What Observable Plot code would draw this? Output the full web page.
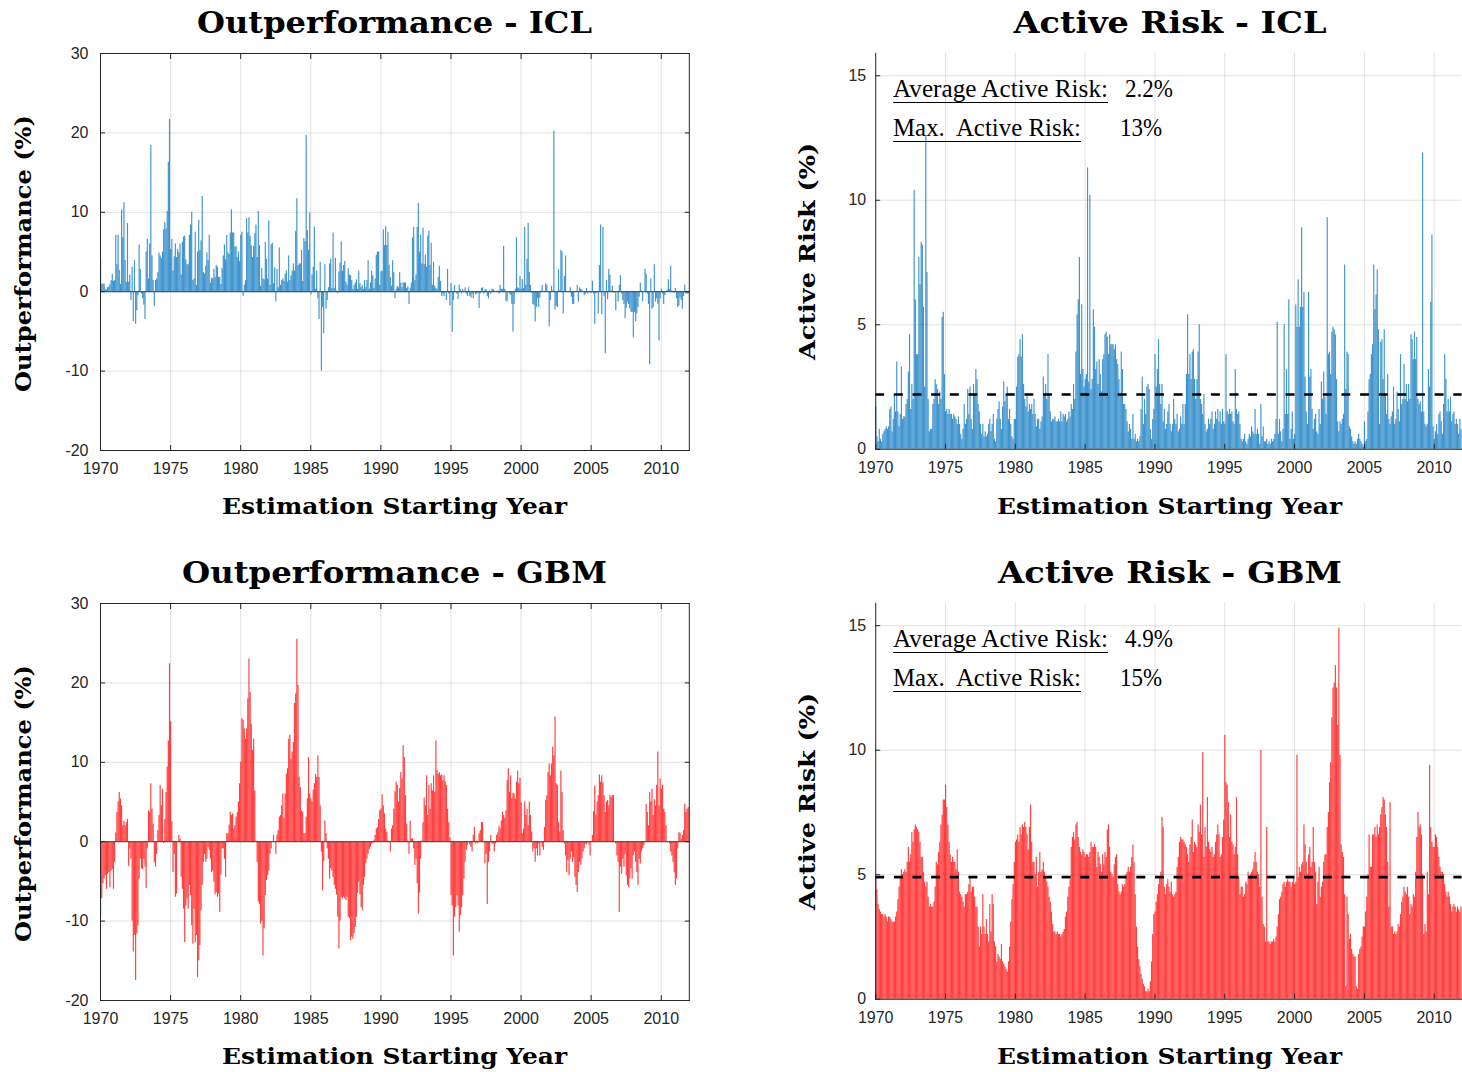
<!DOCTYPE html>
<html><head><meta charset="utf-8">
<script src="https://cdn.jsdelivr.net/npm/d3@7"></script>
<script src="https://cdn.jsdelivr.net/npm/@observablehq/plot@0.6"></script>
<style>
html,body{margin:0;padding:0;background:#fff;overflow:hidden}
#wrap{position:relative;width:1462px;height:1072px;overflow:hidden;background:#fff}
.panel{position:absolute}
#overlay{position:absolute;left:0;top:0;pointer-events:none}
</style></head><body><div id="wrap"></div>
<script>
// ---------------- data (monthly, starting Jan 1970) ----------------
const startYear = 1970;
const xTicks = [1970, 1975, 1980, 1985, 1990, 1995, 2000, 2005, 2010];
const outTicks = [-20, -10, 0, 10, 20, 30];
const riskTicks = [0, 5, 10, 15];

const iclOutperformance = [
/*1970*/ 4.1, 1.0, 0.9, 1.0, 0.3, 0.2, 0.5, 0.6, 0.9, 1.4, 2.2, 1.3,
/*1971*/ 1.4, 7.1, 3.4, 7.1, 2.7, 0.9, 10.3, 6.8, 11.2, 3.9, 1.2, 8.6,
/*1972*/ 1.2, 2.1, -1.1, 3.1, -3.8, 3.9, -4.1, -2.4, -0.5, 5.9, 2.8, -0.3,
/*1973*/ -0.9, -1.7, -3.5, 5.0, 6.6, 1.6, 6.0, 18.4, 4.5, 1.4, -1.9, 1.4,
/*1974*/ 1.6, 2.4, 4.9, 4.5, 4.2, 5.0, 7.8, 8.7, 7.9, 10.1, 16.3, 21.7,
/*1975*/ 5.3, 6.6, 2.6, 4.4, 6.0, 4.3, 5.3, 4.9, 6.0, 2.1, 6.2, 6.9,
/*1976*/ 7.0, 4.0, 3.4, 3.4, 7.1, 8.4, 10.0, 1.4, 1.6, 7.5, 0.8, 5.0,
/*1977*/ 9.0, 5.2, 6.4, 12.0, 2.4, 2.2, 3.2, 4.9, 3.9, 7.1, 1.1, 1.7,
/*1978*/ 1.6, 2.8, 1.8, 3.3, 3.1, 1.8, 1.8, 0.9, 2.9, 4.5, 5.9, 4.0,
/*1979*/ 7.1, 4.9, 4.7, 7.4, 10.3, 7.4, 7.4, 5.6, 5.7, 4.3, 5.0, 3.8,
/*1980*/ 7.1, 7.5, -0.6, 0.8, 1.4, 9.2, 7.4, 9.3, 7.0, 5.8, 4.3, 5.7,
/*1981*/ 7.3, 8.4, 4.3, 10.1, 5.8, 0.7, 2.9, 1.6, 1.5, 6.2, 4.1, 1.6,
/*1982*/ 8.9, 0.8, 5.9, 6.1, 1.0, 3.0, -1.3, 2.8, 0.5, 5.5, 0.8, 1.4,
/*1983*/ 1.6, 1.3, 2.2, 2.6, 1.2, 4.5, 1.4, 2.0, 2.6, 3.5, 2.6, 7.6,
/*1984*/ 11.7, 3.3, 3.5, 3.5, 5.2, 1.3, 6.7, 6.3, 19.7, 7.7, 5.2, 9.9,
/*1985*/ -0.4, 2.1, 3.1, 8.1, 0.3, 2.6, -0.9, -3.5, 3.7, -10.0, -2.0, -5.3,
/*1986*/ 3.4, -2.2, -1.1, 0.5, 3.5, 4.1, 0.4, 7.4, 0.4, 4.2, 0.1, -0.2,
/*1987*/ 2.5, 3.6, 6.3, 2.6, 3.3, 3.8, 1.2, 0.8, 2.9, 2.1, 2.0, 1.4,
/*1988*/ 0.3, 0.8, 1.1, 1.5, 0.3, 2.6, 1.0, 0.5, 0.8, 0.3, 1.4, 0.5,
/*1989*/ 1.4, 3.9, 0.3, 1.1, 2.6, 2.0, 0.4, 1.6, 4.6, 5.0, 5.0, 0.8,
/*1990*/ 2.5, 2.6, 7.8, 5.8, 8.2, 5.8, 7.5, 3.3, 1.8, 0.7, 3.9, 2.4,
/*1991*/ -0.9, 0.3, 0.7, 0.5, 2.4, 1.1, 0.5, 1.1, 1.1, 1.1, 0.4, 0.6,
/*1992*/ -1.6, 0.4, 1.1, 6.8, 8.1, 1.4, 2.1, 8.1, 11.1, 5.0, 7.1, 3.5,
/*1993*/ 8.0, 3.4, 4.6, 3.1, 7.0, 7.6, 3.3, 6.1, 0.8, 3.7, 0.7, 0.4,
/*1994*/ 0.3, 1.8, 3.2, 1.3, -0.6, -0.3, -0.6, -0.1, -1.1, 2.8, -0.3, -1.8,
/*1995*/ 1.0, -5.1, -1.1, 0.8, -0.1, -0.3, -1.0, 0.8, 0.2, -0.3, 0.3, -0.1,
/*1996*/ 0.5, -0.3, -0.6, 0.5, -0.6, -0.8, -0.3, -0.9, -0.1, -0.4, -0.3, -0.2,
/*1997*/ -2.1, -0.3, 0.4, 0.5, -0.3, 0.2, 0.3, -0.6, -0.9, 0.1, -0.3, 0.3,
/*1998*/ 0.3, 0.1, 0.0, 0.0, 0.1, -0.3, 0.8, 0.3, 0.3, 5.7, 0.3, -1.2,
/*1999*/ -1.3, 0.0, -0.3, -0.5, -1.6, -5.1, -1.6, 0.3, 6.8, 0.5, 0.4, 1.9,
/*2000*/ 0.3, 1.5, 0.4, 8.1, 0.8, 4.1, 8.6, 2.4, 0.8, -0.2, -1.6, -1.7,
/*2001*/ -3.8, -2.0, -0.9, -2.0, -0.8, 0.1, 0.8, 0.0, -0.1, 1.0, 0.8, -0.1,
/*2002*/ -4.4, -1.1, 0.7, 0.1, 20.2, -2.3, -1.8, -2.0, 2.8, 0.1, 5.2, 5.0,
/*2003*/ -2.8, 1.9, 4.5, 0.0, -0.1, -0.1, 0.5, -0.7, -1.6, -1.6, -0.1, -0.1,
/*2004*/ 0.8, -1.3, 0.5, 0.3, 0.2, 0.0, -0.5, -0.3, 0.4, -0.3, -0.1, 0.0,
/*2005*/ -0.2, 1.3, -0.3, -4.1, -0.3, -0.1, -2.8, 3.3, 8.4, -2.9, 8.1, -0.6,
/*2006*/ -7.8, 1.4, -1.0, 2.8, 2.1, 0.1, 0.7, -0.2, 0.0, -2.4, -0.1, -1.3,
/*2007*/ 0.8, 2.0, -0.3, -1.1, -1.6, -3.4, -2.1, -1.3, -1.6, -2.2, -2.6, -2.6,
/*2008*/ -5.8, -2.6, -3.8, -2.8, -2.0, -0.7, 1.1, 0.1, -1.3, -0.1, 2.8, 2.2,
/*2009*/ -0.3, -1.6, -9.2, 1.6, -2.2, -2.0, 3.4, -1.3, -0.9, -1.6, -6.2, -0.9,
/*2010*/ 0.3, -0.3, -1.6, -0.5, 0.0, 0.2, 1.5, 0.3, 3.2, 0.1, 0.0, -0.2,
/*2011*/ 0.4, -0.9, -2.0, -1.8, -0.8, -1.1, -2.2, -0.6, 0.8, -0.3, -0.3, -0.3
];

const iclActiveRisk = [
/*1970*/ 1.7, 0.5, 0.3, 0.8, 0.4, 0.3, 0.6, 0.7, 0.8, 0.9, 0.8, 0.9,
/*1971*/ 1.6, 1.7, 0.7, 1.2, 2.2, 1.5, 3.5, 1.5, 0.9, 1.4, 3.3, 1.2,
/*1972*/ 1.3, 1.3, 1.8, 2.0, 3.1, 4.6, 1.6, 2.6, 2.0, 10.4, 6.0, 3.8,
/*1973*/ 3.8, 7.7, 6.6, 8.3, 8.2, 5.7, 2.5, 12.6, 7.1, 2.0, 0.7, 0.8,
/*1974*/ 0.8, 1.8, 2.0, 2.8, 2.6, 2.4, 1.8, 2.3, 2.0, 5.3, 5.5, 3.0,
/*1975*/ 1.5, 1.6, 1.4, 1.6, 1.4, 1.4, 1.2, 1.4, 1.3, 1.2, 1.0, 1.3,
/*1976*/ 1.0, 0.6, 0.4, 0.8, 1.8, 1.0, 1.2, 2.4, 1.4, 2.5, 1.2, 0.8,
/*1977*/ 2.6, 2.2, 3.2, 2.8, 1.8, 1.5, 1.0, 0.6, 1.0, 0.5, 0.7, 0.5,
/*1978*/ 0.6, 1.0, 1.2, 0.7, 1.0, 1.4, 0.4, 0.3, 1.2, 1.6, 1.9, 1.2,
/*1979*/ 0.8, 1.7, 2.7, 1.9, 2.2, 2.5, 1.2, 1.6, 1.0, 0.5, 0.4, 1.2,
/*1980*/ 1.2, 2.5, 3.7, 3.8, 4.4, 3.7, 4.6, 2.6, 2.0, 1.7, 2.2, 1.5,
/*1981*/ 1.8, 1.6, 1.8, 1.4, 2.0, 1.4, 0.9, 1.2, 1.2, 0.8, 1.1, 1.3,
/*1982*/ 2.9, 2.2, 2.6, 2.0, 3.8, 2.2, 1.5, 1.1, 1.2, 1.2, 1.3, 1.1,
/*1983*/ 1.1, 1.2, 1.1, 1.5, 1.1, 1.4, 1.3, 1.4, 1.1, 1.2, 1.5, 1.3,
/*1984*/ 1.8, 1.6, 2.6, 2.0, 3.9, 5.4, 6.0, 7.7, 3.0, 5.8, 3.2, 2.5,
/*1985*/ 2.8, 3.0, 11.3, 2.7, 10.2, 2.4, 2.8, 5.6, 4.9, 3.2, 3.5, 2.6,
/*1986*/ 3.6, 3.0, 2.3, 3.6, 3.8, 4.6, 4.7, 4.5, 3.8, 4.6, 4.2, 4.2,
/*1987*/ 4.2, 4.0, 4.2, 3.6, 3.4, 2.8, 2.2, 3.9, 3.2, 1.8, 1.8, 1.6,
/*1988*/ 1.1, 0.7, 1.0, 0.8, 0.4, 1.4, 0.4, 0.6, 0.3, 0.4, 0.3, 0.5,
/*1989*/ 1.6, 2.9, 1.0, 2.0, 1.4, 2.5, 2.6, 2.4, 0.8, 0.4, 1.2, 1.6,
/*1990*/ 3.8, 2.5, 3.2, 4.4, 2.6, 1.8, 2.6, 1.1, 1.6, 0.8, 1.0, 1.5,
/*1991*/ 1.8, 1.0, 0.7, 1.0, 2.0, 1.2, 1.0, 1.4, 0.7, 0.8, 1.3, 1.0,
/*1992*/ 1.8, 1.0, 1.8, 3.0, 5.4, 3.0, 3.8, 2.8, 3.9, 4.0, 2.8, 2.0,
/*1993*/ 2.8, 3.9, 5.0, 2.0, 1.8, 1.4, 2.2, 1.0, 0.7, 0.8, 1.2, 1.0,
/*1994*/ 1.2, 1.5, 0.8, 1.0, 1.5, 1.2, 1.6, 1.1, 1.5, 1.0, 1.6, 1.1,
/*1995*/ 1.0, 3.8, 1.5, 1.4, 1.6, 1.4, 1.5, 1.1, 1.0, 3.2, 1.6, 1.4,
/*1996*/ 1.5, 1.0, 0.4, 0.3, 0.4, 0.6, 0.3, 0.2, 0.4, 0.6, 0.5, 0.9,
/*1997*/ 0.7, 0.6, 1.6, 0.6, 0.8, 0.6, 0.2, 1.8, 0.5, 0.9, 0.3, 0.3,
/*1998*/ 0.4, 0.2, 0.3, 0.2, 0.4, 0.3, 0.4, 0.6, 1.2, 5.1, 0.6, 1.2,
/*1999*/ 0.7, 0.3, 0.8, 5.0, 1.4, 3.2, 1.4, 6.0, 0.4, 0.8, 1.5, 0.4,
/*2000*/ 0.6, 5.8, 4.9, 6.8, 4.9, 5.7, 8.9, 5.7, 6.3, 2.9, 1.5, 1.0,
/*2001*/ 6.3, 2.9, 3.2, 1.6, 0.8, 1.2, 1.4, 0.7, 0.6, 1.6, 1.0, 2.7,
/*2002*/ 2.0, 3.1, 2.1, 1.4, 9.3, 3.8, 3.9, 3.0, 4.7, 4.9, 4.8, 4.6,
/*2003*/ 2.8, 1.1, 0.7, 1.1, 1.0, 1.2, 1.4, 7.4, 2.4, 3.9, 3.8, 0.9,
/*2004*/ 0.8, 0.5, 0.3, 0.2, 0.3, 0.2, 0.4, 0.6, 0.4, 0.3, 0.2, 0.1,
/*2005*/ 1.1, 0.3, 0.4, 1.5, 2.8, 3.0, 3.8, 4.2, 7.4, 5.6, 6.2, 7.2,
/*2006*/ 4.8, 1.0, 4.3, 4.4, 2.8, 4.8, 2.2, 1.4, 3.0, 1.2, 1.0, 1.3,
/*2007*/ 1.5, 2.5, 1.0, 1.2, 2.3, 1.6, 1.1, 3.8, 1.8, 2.0, 3.4, 2.0,
/*2008*/ 2.6, 1.9, 2.6, 2.0, 4.6, 4.4, 3.6, 4.7, 3.6, 4.5, 2.0, 1.8,
/*2009*/ 1.9, 1.5, 11.9, 1.5, 1.0, 0.9, 1.0, 3.2, 2.5, 5.9, 8.6, 0.9,
/*2010*/ 0.4, 0.7, 1.0, 0.6, 1.4, 1.5, 1.1, 0.6, 1.8, 3.8, 2.8, 1.5,
/*2011*/ 2.0, 1.5, 2.1, 1.1, 1.4, 1.5, 1.0, 1.2, 1.0, 0.6, 1.2, 0.8
];

const gbmOutperformance = [
/*1970*/ -9.7, -7.2, -5.3, -4.7, -4.3, -6.0, -4.1, -3.9, -5.8, -3.7, -3.5, -6.0,
/*1971*/ -2.6, 1.1, 3.7, 5.0, 6.2, 5.4, 4.5, 2.0, 2.6, 2.0, 2.4, 2.8,
/*1972*/ -3.1, -0.9, -2.2, -10.0, -13.9, -11.8, -17.5, -11.6, -10.6, -4.7, -2.2, -3.4,
/*1973*/ -3.5, -2.2, -3.2, -5.9, -0.9, 3.9, 3.7, 7.3, 4.1, 2.2, -2.6, -3.2,
/*1974*/ -1.6, 1.4, 3.3, 7.1, 4.5, 6.6, -0.2, 2.8, 6.2, 9.4, 12.7, 22.4,
/*1975*/ 15.1, 2.5, -3.9, -1.6, -7.0, -6.6, 0.0, 0.8, 0.3, -4.5, -6.0, -8.5,
/*1976*/ -12.7, -8.1, -7.2, -8.5, -5.5, -6.8, -10.6, -12.9, -8.5, -12.7, -11.8, -17.1,
/*1977*/ -15.0, -13.1, -8.7, -5.5, -2.6, -1.6, -2.6, -2.2, -0.7, -1.1, -2.2, -3.9,
/*1978*/ -3.7, -5.1, -6.7, -6.4, -7.0, -6.6, -8.9, -4.2, -0.9, -0.9, -2.2, -4.5,
/*1979*/ 1.0, 1.0, 2.1, 3.7, 3.3, 3.5, 1.6, 2.0, 3.1, 3.7, 5.0, 7.3,
/*1980*/ 10.0, 15.5, 15.3, 14.2, 12.9, 14.2, 18.0, 23.0, 18.8, 14.8, 11.5, 12.9,
/*1981*/ 6.4, 0.1, -2.6, -7.6, -7.9, -10.4, -10.0, -14.4, -11.0, -6.8, -4.9, -4.3,
/*1982*/ -3.7, -1.6, -0.9, 0.0, 0.8, 0.0, -1.6, 0.8, 1.4, 3.1, 3.3, 4.5,
/*1983*/ 6.0, 2.9, 6.0, 8.5, 9.2, 12.9, 13.4, 10.4, 11.3, 12.5, 17.4, 18.6,
/*1984*/ 25.5, 19.7, 8.1, 6.8, 3.9, 3.7, 1.0, 1.0, 3.1, 5.4, 10.6, 6.0,
/*1985*/ 5.4, 5.0, 6.5, 7.3, 8.5, 8.1, 10.8, 8.1, 4.5, -1.3, -6.2, -2.5,
/*1986*/ 2.6, 1.0, -0.9, -2.2, -4.7, -3.4, -3.7, -4.5, -5.5, -6.0, -6.7, -9.5,
/*1987*/ -13.5, -10.0, -7.0, -7.2, -7.0, -7.2, -7.4, -7.0, -9.5, -9.7, -12.5, -12.0,
/*1988*/ -12.3, -11.6, -10.8, -9.5, -6.5, -5.1, -6.7, -8.3, -8.7, -5.5, -4.5, -2.8,
/*1989*/ -2.2, -1.6, -1.0, -0.7, -0.3, -0.2, 0.2, 0.8, 1.6, 1.8, 2.8, 3.9,
/*1990*/ 4.1, 5.9, 4.5, 3.5, 1.6, 1.2, 0.1, 0.0, -1.3, 1.6, 2.0, 4.1,
/*1991*/ 6.3, 7.5, 7.1, 5.0, 6.7, 8.7, 7.9, 12.1, 10.6, 5.8, 2.2, 0.1,
/*1992*/ -1.6, 2.6, 0.3, 0.4, -0.9, -3.0, -2.2, -5.3, -9.1, -6.5, -2.2, 0.1,
/*1993*/ 2.4, 5.5, 4.5, 8.3, 3.3, 7.1, 4.1, 7.3, 6.4, 8.3, 6.2, 12.7,
/*1994*/ 9.0, 8.5, 8.7, 8.3, 8.4, 7.7, 8.3, 7.5, 7.1, 4.1, 2.4, 0.5,
/*1995*/ -6.8, -8.1, -14.4, -9.5, -8.3, -6.8, -8.1, -11.4, -9.3, -8.3, -6.8, -4.7,
/*1996*/ -2.6, -1.1, -0.5, -0.1, -0.4, -0.7, -1.3, 0.8, 1.8, -0.3, 0.1, -0.2,
/*1997*/ 1.0, 1.4, 2.4, 2.4, -0.1, -2.8, -1.6, -7.9, -2.6, -1.3, 0.8, -0.3,
/*1998*/ -0.3, -1.3, -0.3, 0.8, 1.1, 1.9, 1.6, 2.6, 3.7, 3.3, 2.9, 3.9,
/*1999*/ 7.7, 9.2, 6.2, 8.3, 5.4, 6.1, 6.0, 5.4, 7.5, 8.9, 7.3, 8.0,
/*2000*/ 4.9, 1.0, 1.6, 5.0, 3.3, 4.1, 2.0, 5.0, 3.3, 1.2, -1.3, -0.9,
/*2001*/ -2.6, -0.9, -1.8, -0.3, -1.8, -0.1, -0.7, -1.1, 1.8, 5.2, 5.8, 8.7,
/*2002*/ 9.8, 8.3, 9.8, 11.9, 10.8, 15.7, 7.3, 7.1, 2.4, 1.2, 8.9, 6.2,
/*2003*/ 1.4, -0.3, -1.8, -3.9, -2.4, -4.3, -2.2, -1.3, -2.6, -2.0, -4.5, -5.5,
/*2004*/ -6.4, -3.9, -2.6, -3.0, -2.2, -1.3, -0.9, -0.3, -0.4, -0.1, -0.4, -1.8,
/*2005*/ -0.1, 0.8, 3.8, 7.0, 3.3, 5.0, 5.8, 8.4, 7.5, 8.3, 7.4, 5.8,
/*2006*/ 3.7, 5.0, 5.2, 4.5, 5.8, 5.6, 5.8, 5.8, -0.1, -0.3, -1.8, -2.6,
/*2007*/ -8.9, -3.2, -4.1, -2.2, -3.2, -1.6, -4.3, -5.5, -5.8, -4.7, -3.4, -4.7,
/*2008*/ -1.8, -1.3, -2.6, -3.9, -5.5, -2.2, -2.8, -1.3, -0.9, -0.5, -0.1, 4.7,
/*2009*/ 3.7, 2.0, 6.2, 5.0, 6.6, 3.3, 5.3, 4.5, 7.1, 11.3, 4.5, 7.9,
/*2010*/ 6.6, 7.1, 4.1, 3.7, 2.0, -0.1, -0.1, -0.3, -1.3, -1.8, -2.6, -3.9,
/*2011*/ -5.5, -4.7, -0.9, 1.1, 1.1, 0.3, 0.8, 1.4, 4.7, 3.7, 4.1, 4.3
];

const gbmActiveRisk = [
/*1970*/ 4.9, 4.4, 3.8, 3.6, 3.5, 3.4, 3.4, 3.3, 3.4, 3.3, 3.1, 3.3,
/*1971*/ 3.3, 3.2, 3.1, 3.1, 3.1, 3.3, 3.5, 4.0, 4.5, 4.9, 5.2, 5.0,
/*1972*/ 5.1, 5.2, 5.1, 5.5, 6.1, 5.5, 5.8, 6.7, 6.3, 6.8, 7.0, 6.9,
/*1973*/ 6.8, 6.7, 6.3, 5.7, 5.7, 5.1, 4.7, 4.5, 4.7, 4.1, 3.7, 3.8,
/*1974*/ 3.7, 3.7, 3.9, 4.5, 5.5, 5.4, 5.9, 6.3, 7.0, 7.4, 8.0, 8.0,
/*1975*/ 8.6, 7.7, 7.0, 6.3, 5.8, 5.5, 5.7, 5.5, 5.5, 5.2, 6.0, 5.1,
/*1976*/ 4.3, 4.2, 4.1, 3.9, 3.7, 4.2, 4.2, 4.3, 4.6, 4.9, 4.3, 4.5,
/*1977*/ 4.5, 4.1, 3.7, 3.7, 2.9, 2.1, 2.9, 2.6, 4.2, 2.9, 2.6, 3.2,
/*1978*/ 2.6, 2.3, 3.8, 2.7, 4.2, 3.8, 2.3, 2.1, 1.5, 1.8, 1.7, 1.6,
/*1979*/ 2.2, 1.5, 1.4, 1.3, 1.2, 1.1, 1.5, 2.1, 3.1, 4.0, 4.6, 5.5,
/*1980*/ 6.3, 6.4, 6.6, 6.3, 6.9, 6.6, 7.0, 6.9, 7.1, 6.9, 6.6, 6.0,
/*1981*/ 6.9, 7.8, 6.3, 5.5, 5.5, 5.0, 5.7, 4.5, 5.1, 5.9, 5.1, 5.2,
/*1982*/ 5.5, 5.1, 4.9, 4.7, 4.5, 4.1, 3.9, 3.5, 3.0, 2.7, 2.7, 2.6,
/*1983*/ 2.7, 2.6, 2.6, 2.5, 2.6, 2.7, 2.8, 3.3, 3.5, 4.1, 4.5, 4.8,
/*1984*/ 6.1, 6.5, 6.7, 6.4, 7.0, 7.1, 6.5, 6.1, 5.9, 5.8, 6.0, 5.9,
/*1985*/ 5.7, 5.8, 5.8, 5.7, 5.9, 6.3, 6.1, 6.1, 6.2, 6.1, 5.3, 5.9,
/*1986*/ 5.7, 5.4, 5.1, 5.8, 5.4, 5.9, 5.7, 6.8, 7.0, 6.1, 5.1, 5.0,
/*1987*/ 4.9, 5.4, 5.7, 5.8, 4.6, 4.3, 4.2, 4.3, 4.6, 4.5, 4.6, 5.0,
/*1988*/ 5.1, 5.3, 5.1, 5.3, 5.7, 6.2, 5.5, 4.2, 2.9, 2.1, 1.6, 1.3,
/*1989*/ 1.0, 0.8, 0.6, 0.5, 0.3, 0.3, 0.4, 0.3, 0.7, 1.5, 2.6, 3.4,
/*1990*/ 3.5, 3.9, 4.2, 4.6, 4.9, 5.1, 7.3, 6.9, 4.5, 4.2, 4.6, 4.8,
/*1991*/ 4.5, 4.3, 4.7, 4.2, 4.1, 4.2, 4.3, 5.3, 5.7, 6.3, 6.5, 6.4,
/*1992*/ 6.4, 6.3, 6.2, 6.1, 5.8, 5.5, 6.2, 6.5, 7.2, 5.9, 6.3, 6.2,
/*1993*/ 6.1, 7.0, 6.7, 7.8, 6.6, 9.9, 5.7, 6.9, 6.1, 8.1, 6.3, 6.0,
/*1994*/ 5.9, 6.1, 5.7, 5.8, 6.3, 6.6, 7.0, 6.6, 5.7, 5.8, 6.5, 7.2,
/*1995*/ 10.6, 8.7, 8.6, 7.9, 6.5, 7.4, 6.3, 6.2, 5.8, 6.1, 8.1, 5.8,
/*1996*/ 4.9, 4.2, 4.5, 4.5, 4.1, 4.2, 4.7, 4.6, 5.1, 4.9, 5.0, 5.1,
/*1997*/ 5.2, 5.5, 5.9, 5.5, 5.1, 5.0, 4.5, 10.0, 4.1, 3.0, 2.9, 2.3,
/*1998*/ 6.9, 2.3, 2.3, 2.2, 2.3, 2.3, 2.4, 2.3, 2.5, 2.9, 3.4, 4.0,
/*1999*/ 4.1, 4.3, 4.6, 4.7, 4.5, 4.7, 4.8, 4.7, 4.7, 4.5, 4.7, 4.9,
/*2000*/ 4.6, 4.7, 9.8, 4.9, 5.3, 5.1, 5.4, 5.5, 7.0, 6.2, 5.5, 5.0,
/*2001*/ 5.8, 6.1, 5.3, 5.5, 6.9, 5.5, 5.1, 3.8, 4.7, 5.3, 4.1, 4.5,
/*2002*/ 4.7, 5.5, 5.8, 5.8, 6.9, 7.5, 8.7, 9.5, 11.3, 12.5, 12.7, 13.4,
/*2003*/ 12.5, 11.0, 14.9, 9.8, 6.2, 5.9, 5.7, 4.2, 0.5, 4.1, 3.4, 2.4,
/*2004*/ 2.6, 2.0, 1.8, 1.7, 1.7, 0.5, 0.4, 1.8, 2.0, 2.1, 2.5, 2.9,
/*2005*/ 2.9, 3.5, 4.1, 5.0, 6.6, 5.3, 5.3, 6.6, 6.6, 6.9, 6.5, 7.0,
/*2006*/ 6.6, 6.9, 7.4, 7.7, 8.1, 8.0, 7.4, 6.9, 5.5, 3.7, 7.9, 2.9,
/*2007*/ 2.9, 2.6, 2.7, 2.6, 2.7, 3.0, 2.9, 3.4, 3.9, 4.1, 4.5, 4.3,
/*2008*/ 4.2, 4.5, 4.1, 3.4, 3.8, 3.7, 4.2, 4.1, 5.1, 6.5, 7.5, 6.9,
/*2009*/ 7.0, 6.6, 5.0, 2.6, 3.0, 2.7, 5.1, 4.2, 9.4, 6.9, 6.3, 6.1,
/*2010*/ 6.1, 6.6, 6.5, 6.1, 5.7, 5.3, 5.1, 5.1, 5.0, 4.6, 4.3, 4.1,
/*2011*/ 4.3, 4.1, 3.8, 3.5, 3.7, 3.8, 3.7, 3.5, 3.7, 3.6, 3.5, 3.7
];

const iclAverageRisk = 2.2, iclMaxRisk = 13;
const gbmAverageRisk = 4.9, gbmMaxRisk = 15;

// ---------------- drawing ----------------
const BLUE = "#0072BD", RED = "#FF0000", AXIS = "#262626";
const rows = vals => vals.map((v, i) => ({t: startYear + i / 12, t2: startYear + (i + 1) / 12, v}));
const wrap = document.getElementById("wrap");

function panel({values, color, kind, avg, left, top, width, mL, mR, mT, mB}) {
  const isOut = kind === "out";
  const yTicks = isOut ? outTicks : riskTicks;
  const marks = [
    Plot.gridX(xTicks, {stroke: "#000", strokeOpacity: 0.12}),
    Plot.gridY(yTicks, {stroke: "#000", strokeOpacity: 0.12}),
    Plot.rectY(rows(values), {x1: "t", x2: "t2", y1: 0, y2: "v", fill: color, fillOpacity: 0.75})
  ];
  if (isOut) marks.push(Plot.ruleY([0], {stroke: "#555", strokeWidth: 1.3}));
  if (avg != null) marks.push(Plot.ruleY([avg], {stroke: "#000", strokeWidth: 2.7, strokeDasharray: "9,9.7"}));
  marks.push(
    Plot.axisX({ticks: xTicks, tickSize: -5, tickPadding: 17, tickFormat: d => String(d), label: null, stroke: AXIS, fill: AXIS}),
    Plot.axisY({ticks: yTicks, tickSize: -5, tickPadding: isOut ? 17 : 14.6, tickFormat: d => String(d), label: null, stroke: AXIS, fill: AXIS})
  );
  if (isOut) {
    marks.push(
      Plot.axisX({anchor: "top", ticks: xTicks, tickSize: -5, tickFormat: () => "", label: null, stroke: AXIS}),
      Plot.axisY({anchor: "right", ticks: yTicks, tickSize: -5, tickFormat: () => "", label: null, stroke: AXIS}),
      Plot.frame({stroke: AXIS, strokeWidth: 1})
    );
  } else {
    marks.push(Plot.frame({anchor: "left", stroke: AXIS}), Plot.frame({anchor: "bottom", stroke: AXIS}));
  }
  const svg = Plot.plot({
    width, height: 536, marginLeft: mL, marginRight: mR, marginTop: mT, marginBottom: mB,
    x: {domain: [1970, 2012]},
    y: {domain: isOut ? [-20, 30] : [0, 15.9]},
    style: {fontFamily: "'Liberation Sans', Arial, sans-serif", fontSize: "16px", color: AXIS, background: "transparent", overflow: "visible"},
    marks
  });
  const d = document.createElement("div");
  d.className = "panel";
  d.style.left = left + "px"; d.style.top = top + "px";
  d.appendChild(svg);
  wrap.appendChild(d);
}

panel({values: iclOutperformance, color: BLUE, kind: "out", left: 0, top: 0, width: 731, mL: 100, mR: 42.2, mT: 53, mB: 86});
panel({values: iclActiveRisk, color: BLUE, kind: "risk", avg: iclAverageRisk, left: 731, top: 0, width: 733, mL: 144.6, mR: 0.4, mT: 53, mB: 86});
panel({values: gbmOutperformance, color: RED, kind: "out", left: 0, top: 536, width: 731, mL: 100, mR: 42.2, mT: 67, mB: 72});
panel({values: gbmActiveRisk, color: RED, kind: "risk", avg: gbmAverageRisk, left: 731, top: 536, width: 733, mL: 144.6, mR: 0.4, mT: 67, mB: 72});

// ---------------- text overlay ----------------
const NS = "http://www.w3.org/2000/svg";
const ov = document.createElementNS(NS, "svg");
ov.setAttribute("id", "overlay"); ov.setAttribute("width", 1462); ov.setAttribute("height", 1072);
wrap.appendChild(ov);
function txt(s, x, y, {size, weight = "bold", family = "'DejaVu Serif', serif", anchor = "middle", len, rotate = false}) {
  const t = document.createElementNS(NS, "text");
  t.textContent = s;
  t.setAttribute("x", x); t.setAttribute("y", y);
  t.setAttribute("font-family", family); t.setAttribute("font-size", size); t.setAttribute("font-weight", weight);
  t.setAttribute("text-anchor", anchor); t.setAttribute("fill", "#000");
  if (len) { t.setAttribute("textLength", len); t.setAttribute("lengthAdjust", "spacingAndGlyphs"); }
  if (rotate) t.setAttribute("transform", `rotate(-90 ${x} ${y})`);
  ov.appendChild(t);
}
function line(x1, x2, y) {
  const l = document.createElementNS(NS, "line");
  l.setAttribute("x1", x1); l.setAttribute("x2", x2); l.setAttribute("y1", y); l.setAttribute("y2", y);
  l.setAttribute("stroke", "#000"); l.setAttribute("stroke-width", 1.2);
  ov.appendChild(l);
}
const fmtPct = v => v + "%";
[[0, "ICL", iclAverageRisk.toFixed(1), iclMaxRisk], [550, "GBM", gbmAverageRisk.toFixed(1), gbmMaxRisk]].forEach(([dy, name, avg, mx]) => {
  txt(`Outperformance - ${name}`, 394.5, 33 + dy, {size: 29, len: name === "ICL" ? 395 : 425});
  txt(`Active Risk - ${name}`, 1170, 33 + dy, {size: 29, len: name === "ICL" ? 313 : 344});
  txt("Estimation Starting Year", 394.5, 514 + dy, {size: 23, len: 345});
  txt("Estimation Starting Year", 1169.5, 514 + dy, {size: 23, len: 345});
  txt("Outperformance (%)", 31, 253.5 + dy, {size: 23, len: 277, rotate: true});
  txt("Active Risk (%)", 815, 251.5 + dy, {size: 23, len: 217, rotate: true});
  const serif = "'Liberation Serif', 'Times New Roman', serif";
  txt("Average Active Risk:", 893, 97 + dy, {size: 25, weight: "normal", family: serif, anchor: "start", len: 215});
  line(893, 1108, 102.5 + dy);
  txt(fmtPct(avg), 1125, 97 + dy, {size: 25, weight: "normal", family: serif, anchor: "start", len: 48});
  txt("Max.\u00a0 Active Risk:", 893, 136 + dy, {size: 25, weight: "normal", family: serif, anchor: "start", len: 188});
  line(893, 1081, 141.5 + dy);
  txt(fmtPct(mx), 1120, 136 + dy, {size: 25, weight: "normal", family: serif, anchor: "start", len: 42});
});
</script></body></html>
